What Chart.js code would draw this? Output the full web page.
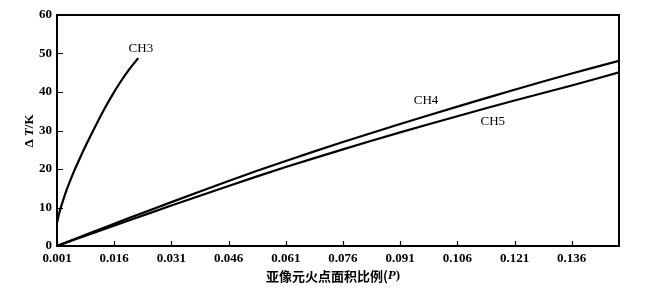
<!DOCTYPE html>
<html>
<head>
<meta charset="utf-8">
<script src="https://cdn.jsdelivr.net/npm/chart.js@4"></script>
<style>
  body { margin: 0; background: #fff; }
  #wrap { width: 654px; height: 291px; }
</style>
</head>
<body>
<div id="wrap"><canvas id="chart" width="654" height="291"></canvas></div>
<script>
// values
const xTicks = [0.001, 0.016, 0.031, 0.046, 0.061, 0.076, 0.091, 0.106, 0.121, 0.136];
const yTicks = [0, 10, 20, 30, 40, 50, 60];

const ch3P = [0.001, 0.0015, 0.0022, 0.0035, 0.0055, 0.0070, 0.0088, 0.0110, 0.0136, 0.0155, 0.0175, 0.0198, 0.0223];
const ch3T = [6, 8.2, 10.6, 14.5, 19.5, 22.8, 26.6, 31.0, 35.9, 39.2, 42.4, 45.7, 48.8];

const chP = [0.001, 0.010, 0.020, 0.031, 0.046, 0.061, 0.076, 0.091, 0.106, 0.121, 0.136, 0.1484];
const ch4T = [0, 3.5, 7.3, 11.4, 16.9, 22.1, 27.0, 31.7, 36.2, 40.6, 44.8, 48.1];
const ch5T = [0, 3.2, 6.7, 10.5, 15.6, 20.5, 25.1, 29.5, 33.7, 37.8, 41.7, 45.1];

const labelText = ["CH3", "CH4", "CH5"];
const labelP = [0.0230, 0.0978, 0.1153];
const labelT = [51.4, 37.7, 32.2];

const serif = "'Liberation Serif', 'DejaVu Serif', serif";

function toPoints(xs, ys) {
    return xs.map((x, i) => ({ x: x, y: ys[i] }));
}

// frame, inward ticks, curve labels and axis titles
const decor = {
    id: "decor",
    afterDraw(chart) {
        const ctx = chart.ctx;
        const a = chart.chartArea;
        const xs = chart.scales.x;
        const ys = chart.scales.y;
        ctx.save();
        ctx.strokeStyle = "#000";
        ctx.lineWidth = 2;
        ctx.strokeRect(a.left, a.top, a.right - a.left, a.bottom - a.top);

        ctx.lineWidth = 1.2;
        ctx.beginPath();
        xTicks.forEach((v) => {
            const px = Math.round(xs.getPixelForValue(v)) + 0.5;
            ctx.moveTo(px, a.bottom);
            ctx.lineTo(px, a.bottom - 5);
        });
        yTicks.forEach((v) => {
            const py = Math.round(ys.getPixelForValue(v)) + 0.5;
            ctx.moveTo(a.left, py);
            ctx.lineTo(a.left + 6, py);
        });
        ctx.stroke();

        ctx.fillStyle = "#000";
        ctx.font = "13px " + serif;
        ctx.textAlign = "center";
        ctx.textBaseline = "middle";
        labelText.forEach((t, i) => {
            ctx.fillText(t, xs.getPixelForValue(labelP[i]), ys.getPixelForValue(labelT[i]));
        });

        // x axis title, with italic P
        const cx = 333;
        const ty = 276;
        const main = "亚像元火点面积比例(";
        ctx.font = "bold 13px 'Noto Sans CJK SC', sans-serif";
        const w1 = ctx.measureText(main).width;
        ctx.font = "italic bold 13px " + serif;
        const w2 = ctx.measureText("P").width;
        ctx.font = "bold 13px " + serif;
        const w3 = ctx.measureText(")").width;
        let sx = cx - (w1 + w2 + w3) / 2;
        ctx.textAlign = "left";
        ctx.font = "bold 13px 'Noto Sans CJK SC', sans-serif";
        ctx.fillText(main, sx, ty);
        sx += w1;
        ctx.font = "italic bold 13px " + serif;
        ctx.fillText("P", sx, ty);
        sx += w2;
        ctx.font = "bold 13px " + serif;
        ctx.fillText(")", sx, ty);

        // y axis title ΔT/K
        ctx.translate(30, 131);
        ctx.rotate(-Math.PI / 2);
        const parts = [["Δ ", "bold 13px " + serif], ["T", "italic bold 13px " + serif], ["/K", "bold 13px " + serif]];
        let tw = 0;
        parts.forEach((p) => { ctx.font = p[1]; tw += ctx.measureText(p[0]).width; });
        let px = -tw / 2;
        parts.forEach((p) => {
            ctx.font = p[1];
            ctx.fillText(p[0], px, 0);
            px += ctx.measureText(p[0]).width;
        });
        ctx.restore();
    },
};

const lineStyle = {
    borderColor: "#000",
    borderWidth: 2.2,
    pointRadius: 0,
    showLine: true,
    fill: false,
    tension: 0.3,
};

new Chart(document.getElementById("chart"), {
    type: "scatter",
    data: {
        datasets: [
            Object.assign({ label: "CH3", data: toPoints(ch3P, ch3T) }, lineStyle),
            Object.assign({ label: "CH4", data: toPoints(chP, ch4T) }, lineStyle),
            Object.assign({ label: "CH5", data: toPoints(chP, ch5T) }, lineStyle),
        ],
    },
    options: {
        responsive: false,
        animation: false,
        layout: { padding: { left: 0, right: 35, top: 15, bottom: 0 } },
        plugins: {
            legend: { display: false },
            tooltip: { enabled: false },
        },
        scales: {
            x: {
                type: "linear",
                min: 0.001,
                max: 0.1484,
                grid: { display: false, drawTicks: false },
                border: { display: false },
                afterBuildTicks: (scale) => {
                    scale.ticks = xTicks.map((v) => ({ value: v }));
                },
                afterFit: (scale) => { scale.height = 45; },
                ticks: {
                    color: "#000",
                    padding: 5,
                    maxRotation: 0,
                    autoSkip: false,
                    font: { family: serif, size: 13, weight: "bold" },
                    callback: (v) => v.toFixed(3),
                },
            },
            y: {
                min: 0,
                max: 60,
                grid: { display: false, drawTicks: false },
                border: { display: false },
                afterBuildTicks: (scale) => {
                    scale.ticks = yTicks.map((v) => ({ value: v }));
                },
                afterFit: (scale) => { scale.width = 57; },
                ticks: {
                    color: "#000",
                    padding: 5,
                    font: { family: serif, size: 13, weight: "bold" },
                },
            },
        },
    },
    plugins: [decor],
});
</script>
</body>
</html>
